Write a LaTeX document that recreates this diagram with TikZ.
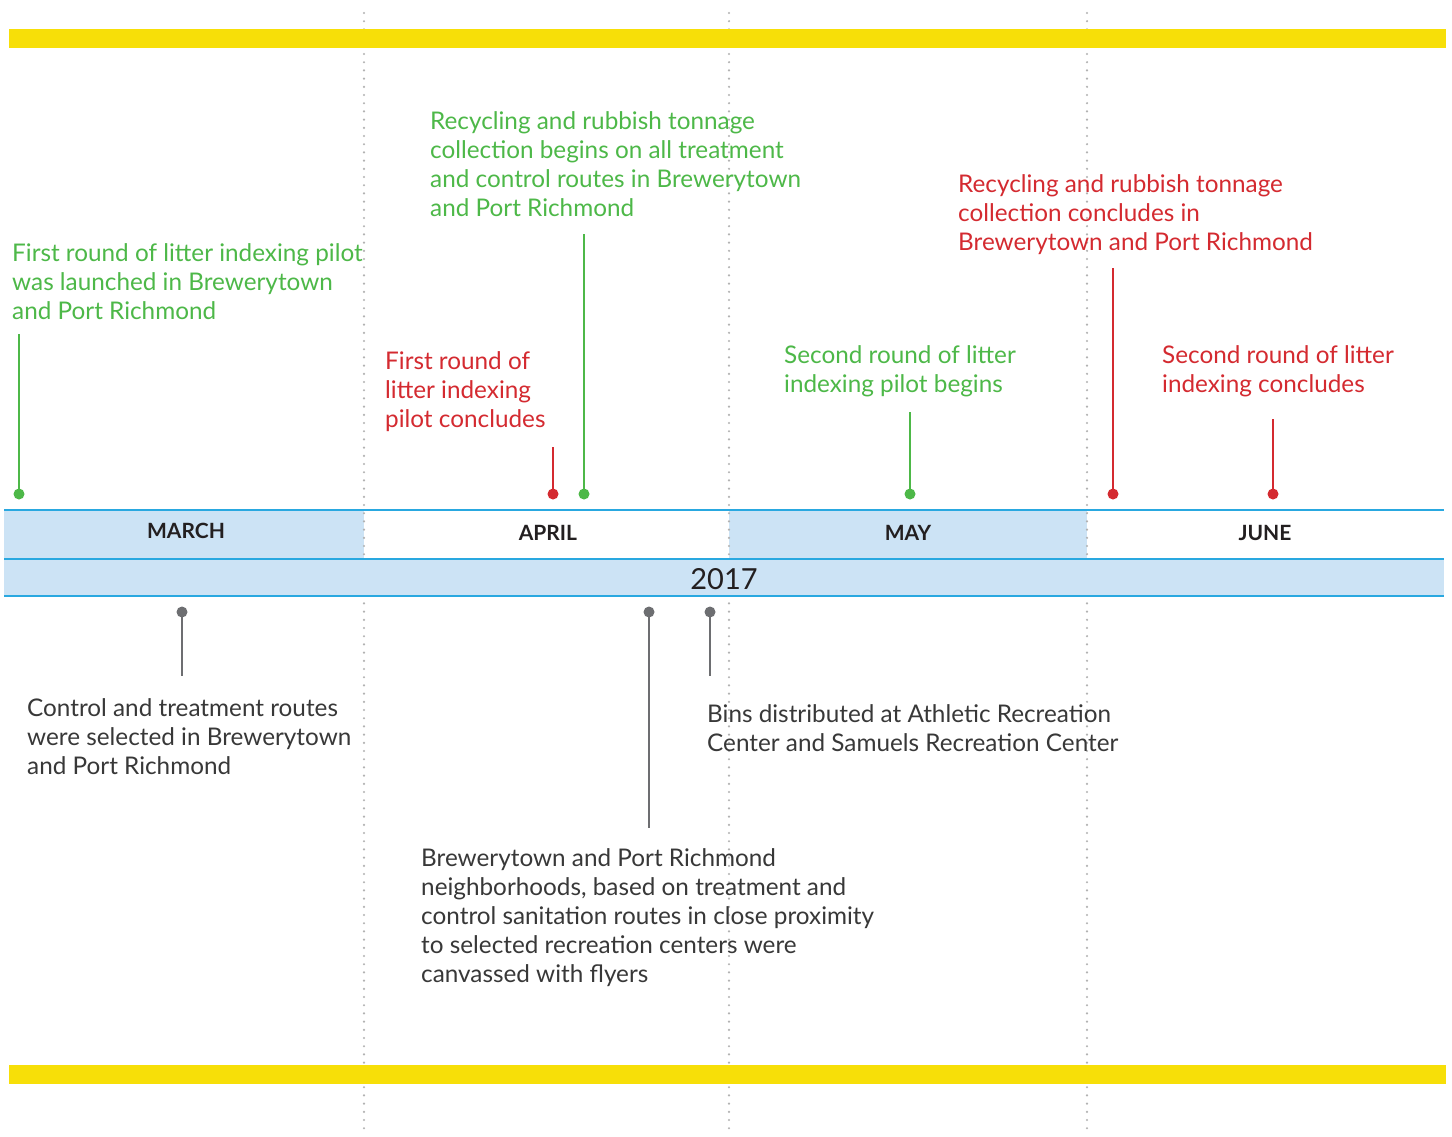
\documentclass[tikz,border=0pt]{standalone}
\usepackage{fontspec}
\setmainfont{Lato}
\definecolor{ygold}{HTML}{F7DF08}
\definecolor{bline}{HTML}{29A8E0}
\definecolor{bfill}{HTML}{CCE3F5}
\definecolor{tgreen}{HTML}{4DB848}
\definecolor{tred}{HTML}{D42A30}
\definecolor{pgray}{HTML}{6D6E71}
\definecolor{tgray}{HTML}{383838}
\definecolor{mdark}{HTML}{231F20}
\newcommand{\lns}[1]{\begin{tabular}[t]{@{}l@{}}#1\end{tabular}}
\begin{document}
\begin{tikzpicture}[x=1pt,y=-1pt,
  txt/.style={font=\fontsize{24.3}{29}\selectfont, inner sep=0pt, anchor=base west},
  month/.style={font=\fontsize{21}{24}\selectfont\bfseries, text=mdark, inner sep=0pt, anchor=base},
  dotnode/.style={circle, inner sep=0pt, outer sep=0pt, minimum size=11pt},
  pinline/.style={line width=2pt},
  vdots/.style={draw=black!30, line width=2.4pt, line cap=round, dash pattern=on 0pt off 8.2pt},
  bandline/.style={draw=bline, line width=2pt}]
\useasboundingbox (0,0) rectangle (1452,1136);
\fill[white] (0,0) rectangle (1452,1136);
% month row fills
\fill[bfill] (4,511) rectangle (364,559);
\fill[bfill] (729,511) rectangle (1087,559);
% dotted month separators
\coordinate (d1t) at (364,13); \coordinate (d1b) at (364,1136);
\coordinate (d2t) at (729,13); \coordinate (d2b) at (729,1136);
\coordinate (d3t) at (1087,13); \coordinate (d3b) at (1087,1136);
\draw[vdots] (d1t) -- (d1b);
\draw[vdots] (d2t) -- (d2b);
\draw[vdots] (d3t) -- (d3b);
% year row fill
\fill[bfill] (4,559) rectangle (1444,596);
% band lines
\draw[bandline] (4,510) -- (1444,510);
\draw[bandline] (4,559) -- (1444,559);
\draw[bandline] (4,596) -- (1444,596);
% yellow bars
\fill[ygold] (9,29) rectangle (1446,48);
\fill[ygold] (9,1065) rectangle (1446,1084);
% month labels
\node[month] (mar) at (186,538) {MARCH};
\node[month] (apr) at (548,540) {APRIL};
\node[month] (may) at (908,540) {MAY};
\node[month] (jun) at (1265,540) {JUNE};
\node[font=\fontsize{29}{30}\selectfont, text=mdark, inner sep=0pt, anchor=base] (yr) at (724,589) {2017};
% top pins
\node[dotnode] (p1) at (19,494) {};
\coordinate (p1t) at (19,334);
\draw[pinline, tgreen] (p1t) -- (p1.center);
\fill[tgreen] (p1.center) circle[radius=5.5];
\node[dotnode] (p2) at (553,494) {};
\coordinate (p2t) at (553,447);
\draw[pinline, tred] (p2t) -- (p2.center);
\fill[tred] (p2.center) circle[radius=5.5];
\node[dotnode] (p3) at (584,494) {};
\coordinate (p3t) at (584,234);
\draw[pinline, tgreen] (p3t) -- (p3.center);
\fill[tgreen] (p3.center) circle[radius=5.5];
\node[dotnode] (p4) at (910,494) {};
\coordinate (p4t) at (910,412);
\draw[pinline, tgreen] (p4t) -- (p4.center);
\fill[tgreen] (p4.center) circle[radius=5.5];
\node[dotnode] (p5) at (1113,494) {};
\coordinate (p5t) at (1113,268);
\draw[pinline, tred] (p5t) -- (p5.center);
\fill[tred] (p5.center) circle[radius=5.5];
\node[dotnode] (p6) at (1273,494) {};
\coordinate (p6t) at (1273,419);
\draw[pinline, tred] (p6t) -- (p6.center);
\fill[tred] (p6.center) circle[radius=5.5];
% bottom pins
\node[dotnode] (q1) at (182,612) {};
\coordinate (q1b) at (182,676);
\draw[pinline, pgray] (q1.center) -- (q1b);
\fill[pgray] (q1.center) circle[radius=5.5];
\node[dotnode] (q2) at (649,612) {};
\coordinate (q2b) at (649,828);
\draw[pinline, pgray] (q2.center) -- (q2b);
\fill[pgray] (q2.center) circle[radius=5.5];
\node[dotnode] (q3) at (710,612) {};
\coordinate (q3b) at (710,676);
\draw[pinline, pgray] (q3.center) -- (q3b);
\fill[pgray] (q3.center) circle[radius=5.5];
% texts
\node[txt, text=tgreen] (t1) at (12,261) {\lns{First round of litter indexing pilot\\was launched in Brewerytown\\and Port Richmond}};
\node[txt, text=tgreen] (t2) at (430,129) {\lns{Recycling and rubbish tonnage\\collection begins on all treatment\\and control routes in Brewerytown\\and Port Richmond}};
\node[txt, text=tred] (t3) at (385,369) {\lns{First round of\\litter indexing\\pilot concludes}};
\node[txt, text=tgreen] (t4) at (784,363) {\lns{Second round of litter\\indexing pilot begins}};
\node[txt, text=tred] (t5) at (958,192) {\lns{Recycling and rubbish tonnage\\collection concludes in\\Brewerytown and Port Richmond}};
\node[txt, text=tred] (t6) at (1162,363) {\lns{Second round of litter\\indexing concludes}};
\node[txt, text=tgray] (t7) at (27,716) {\lns{Control and treatment routes\\were selected in Brewerytown\\and Port Richmond}};
\node[txt, text=tgray] (t8) at (707,722) {\lns{Bins distributed at Athletic Recreation\\Center and Samuels Recreation Center}};
\node[txt, text=tgray] (t9) at (421,866) {\lns{Brewerytown and Port Richmond\\neighborhoods, based on treatment and\\control sanitation routes in close proximity\\to selected recreation centers were\\canvassed with flyers}};
\end{tikzpicture}
\end{document}
